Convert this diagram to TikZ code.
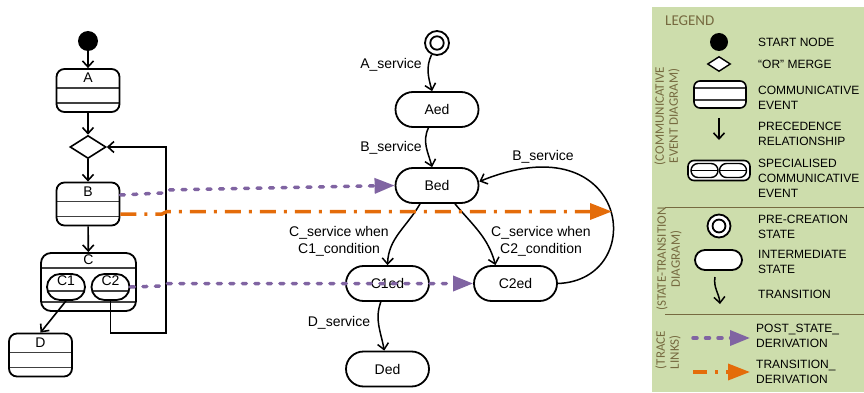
\documentclass[tikz,border=0pt]{standalone}
\usepackage{fontspec}
\setmainfont{Liberation Sans}
\newfontfamily\legfont{Carlito}
\usepackage{tikz}
\usetikzlibrary{shapes.geometric,shapes.misc,arrows.meta}
\usepackage{xcolor}
\definecolor{clrpurple}{RGB}{128,100,162}
\definecolor{clrorange}{RGB}{228,108,10}
\definecolor{clrleg}{RGB}{205,221,172}
\definecolor{clrolive}{RGB}{118,106,64}

\begin{document}
\begin{tikzpicture}[
    x=1pt, y=-1pt,
    font=\fontsize{14}{17}\selectfont,
    startnode/.style={circle, fill=black, minimum size=20, inner sep=0},
    ormerge/.style={diamond, draw, line width=1.6, fill=white,
                    minimum width=36, minimum height=23, inner sep=0},
    event/.style={draw, line width=1.8, rounded corners=8, fill=white,
                  minimum width=63, minimum height=43, inner sep=0,
                  label={[anchor=north, inner sep=5pt]north:#1},
                  path picture={
                    \draw[line width=1.2, black!75]
                      ([yshift=-19pt]path picture bounding box.north west) --
                      ([yshift=-19pt]path picture bounding box.north east);
                    \draw[line width=1.2, black!75]
                      ([yshift=-34pt]path picture bounding box.north west) --
                      ([yshift=-34pt]path picture bounding box.north east);}},
    specevent/.style={draw, line width=1.8, rounded corners=10, fill=white,
                  minimum width=95, minimum height=58, inner sep=0,
                  label={[anchor=north, inner sep=2pt]north:#1},
                  path picture={
                    \draw[line width=1.2, black!75]
                      ([yshift=-15pt]path picture bounding box.north west) --
                      ([yshift=-15pt]path picture bounding box.north east);
                    \draw[line width=1.2, black!75]
                      ([yshift=-49pt]path picture bounding box.north west) --
                      ([yshift=-49pt]path picture bounding box.north east);}},
    subevent/.style={rounded rectangle, draw, line width=1.8, fill=white,
                  minimum width=38, minimum height=26, inner sep=0,
                  label={[anchor=north, inner sep=2pt]north:#1},
                  path picture={
                    \draw[line width=1.2, black!75]
                      ([yshift=-17pt]path picture bounding box.north west) --
                      ([yshift=-17pt]path picture bounding box.north east);}},
    precreate/.style={circle, draw, line width=1.8, fill=white,
                  minimum size=#1, inner sep=0,
                  path picture={\draw[line width=1.8]
                    (path picture bounding box.center) circle (0.28*#1);}},
    precreate/.default=24,
    state/.style={rounded rectangle, draw, line width=1.8, fill=white,
                  minimum width=83, minimum height=35, inner sep=0},
    prec/.style={-{Straight Barb[length=6pt,width=11pt]}, line width=1.6},
    trans/.style={prec, line width=1.5},
    postlink/.style={clrpurple, line width=3.5, line cap=round,
                     dash pattern=on 4pt off 8.5pt,
                     -{Triangle[length=20pt,width=15pt]}},
    translink/.style={clrorange, line width=3.5,
                      dash pattern=on 16pt off 8pt on 3pt off 8pt,
                      -{Triangle[length=22pt,width=16pt]}},
    lbl/.style={inner sep=0, align=center},
    legtxt/.style={anchor=west, align=left, inner sep=0,
                   font=\fontsize{12}{15}\selectfont},
    sidetxt/.style={rotate=90, inner sep=0, text=clrolive,
                    font=\legfont\fontsize{13}{14}\selectfont},
  ]
    \useasboundingbox (0,0) rectangle (864,393);

    % legend panel
    \fill[clrleg] (652,7) rectangle (864,392);
    \draw[clrolive, line width=1] (665,207) -- (864,207);
    \draw[clrolive, line width=1] (665,314) -- (864,314);
    \node[anchor=west, inner sep=0, text=clrolive,
          font=\legfont\fontsize{15}{15}\selectfont] (leg) at (665,21) {LEGEND};
    \node[sidetxt, align=center] (sidecev) at (667,116) {(COMMUNICATIVE\\EVENT DIAGRAM)};
    \node[sidetxt, align=center] (sidestd) at (669,259) {(STATE-TRANSITION\\DIAGRAM)};
    \node[sidetxt, align=left]   (sidetrl) at (668,350) {(TRACE\\LINKS)};

    \node[startnode, minimum size=18] (lstart) at (719,42) {};
    \node[ormerge, minimum width=23, minimum height=15, line width=1.4] (lor) at (719,64) {};
    \node[draw, line width=1.6, rounded corners=6, fill=white,
          minimum width=52, minimum height=27, inner sep=0,
          path picture={
            \draw[line width=1.1, black!75]
              ([yshift=-7pt]path picture bounding box.north west) --
              ([yshift=-7pt]path picture bounding box.north east);
            \draw[line width=1.1, black!75]
              ([yshift=-19pt]path picture bounding box.north west) --
              ([yshift=-19pt]path picture bounding box.north east);}]
          (levent) at (720,94.5) {};
    \coordinate (lprec1) at (719,118);
    \coordinate (lprec2) at (719,140);
    \draw[prec] (lprec1) -- (lprec2);
    \node[draw, line width=1.6, rounded corners=6, fill=white,
          minimum width=62, minimum height=20, inner sep=0] (lspec) at (719,170.5) {};
    \foreach \sx/\nm in {704.5/lspa, 733/lspb}
      \node[rounded rectangle, draw, line width=1.4, minimum width=27,
            minimum height=14, inner sep=0,
            path picture={\draw[line width=1.1]
              (path picture bounding box.west) -- (path picture bounding box.east);}]
            (\nm) at (\sx,170.5) {};
    \node[precreate=23] (lpre) at (719,226) {};
    \node[state, minimum width=47, minimum height=20] (lstate) at (718.5,260) {};
    \coordinate (ltr1) at (715,277);
    \coordinate (ltr2) at (720,304);
    \draw[trans] (ltr1) to[out=-100, in=95] (ltr2);
    \coordinate (lpl1) at (693,338);
    \coordinate (lpl2) at (750,338);
    \draw[postlink] (lpl1) -- (lpl2);
    \coordinate (ltl1) at (693,372);
    \coordinate (ltl2) at (750,372);
    \draw[translink, dash pattern=on 14pt off 8pt on 3pt off 8pt] (ltl1) -- (ltl2);

    \node[legtxt] (tstart) at (758,42)    {START NODE};
    \node[legtxt] (tor)    at (758,64)    {“OR” MERGE};
    \node[legtxt] (tev)    at (758,97.5)  {COMMUNICATIVE\\EVENT};
    \node[legtxt] (tprec)  at (758,134)   {PRECEDENCE\\RELATIONSHIP};
    \node[legtxt] (tspec)  at (758,178)   {SPECIALISED\\COMMUNICATIVE\\EVENT};
    \node[legtxt] (tpre)   at (758,226.5) {PRE-CREATION\\STATE};
    \node[legtxt] (tstate) at (758,262)   {INTERMEDIATE\\STATE};
    \node[legtxt] (ttr)    at (758,294)   {TRANSITION};
    \node[legtxt] (tpl)    at (756,336)   {POST\_STATE\_\\DERIVATION};
    \node[legtxt] (ttl)    at (756,371.5) {TRANSITION\_\\DERIVATION};

    % communicative event diagram
    \node[startnode] (start) at (88,41) {};
    \node[event=A]   (A)     at (88,90.5) {};
    \node[ormerge]   (or)    at (88,147) {};
    \node[event=B]   (B)     at (88,204) {};
    \node[specevent=C] (C)   at (88.5,282) {};
    \node[subevent=C1] (C1)  at (66,287) {};
    \node[subevent=C2] (C2)  at (110.5,287) {};
    \node[event=D]   (D)     at (40.5,355) {};
    \coordinate (loop) at (166,333);

    \draw[prec] (start) -- (A);
    \draw[prec] (A) -- (or);
    \draw[prec] (or) -- (B);
    \draw[prec] (B) -- (C);
    \draw[prec] (C1.south) -- (D.north);
    \draw[prec] (C2.south) |- (loop) |- (or.east);

    % state-transition diagram
    \node[precreate] (pre)  at (437,43) {};
    \node[state]     (Aed)  at (437,109.5) {Aed};
    \node[state]     (Bed)  at (437,185.5) {Bed};
    \node[state]     (C1ed) at (387.5,283.5) {C1ed};
    \node[state]     (C2ed) at (515.5,283.5) {C2ed};
    \node[state]     (Ded)  at (387.5,369) {Ded};

    \draw[trans] (pre) to[out=-115, in=105] (Aed);
    \draw[trans] (Aed) to[out=-115, in=105] (Bed);
    \draw[trans] ([xshift=-17pt]Bed.south) to[out=-120, in=88] (C1ed.north);
    \draw[trans] ([xshift=18pt]Bed.south) to[out=-50, in=105] ([xshift=-20pt]C2ed.north);
    \draw[trans] (C1ed) to[out=-110, in=100] (Ded);
    \draw[trans] (C2ed.east) .. controls (650,280) and (630,120) .. ([yshift=4pt]Bed.east);

    \node[lbl] (lA)  at (391,65)  {A\_service};
    \node[lbl] (lB)  at (391,148) {B\_service};
    \node[lbl] (lB2) at (543,157) {B\_service};
    \node[lbl] (lC1) at (339,241.5) {C\_service when\\C1\_condition};
    \node[lbl] (lC2) at (541,241.5) {C\_service when\\C2\_condition};
    \node[lbl] (lD)  at (339,323) {D\_service};

    % trace links
    \coordinate (tlend) at (612,211.5);
    \draw[postlink] ([yshift=9pt]B.east) -- (162,193) -- (167,190) -- (Bed.west);
    \draw[translink] ([yshift=-10pt]B.east) -- (162,214) -- (167,211.5) -- (tlend);
    \draw[postlink] (C2.east) -- (162,286) -- (167,283.5) -- (C2ed.west);
\end{tikzpicture}
\end{document}
